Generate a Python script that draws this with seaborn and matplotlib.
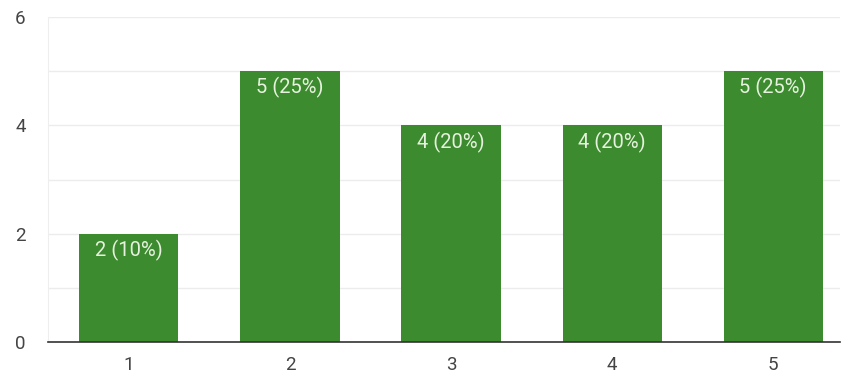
import matplotlib
matplotlib.use("Agg")
import matplotlib.pyplot as plt
import seaborn as sns
import pandas as pd

categories = ["1", "2", "3", "4", "5"]
counts = [2, 5, 4, 4, 5]
labels = ["2 (10%)", "5 (25%)", "4 (20%)", "4 (20%)", "5 (25%)"]
yticks = [0, 2, 4, 6]

sns.set_style("white")
plt.rcParams['font.family'] = ['Roboto', 'DejaVu Sans']

df = pd.DataFrame({"cat": categories, "count": counts})

fig = plt.figure(figsize=(8.45, 3.79), dpi=100)
ax = fig.add_axes([48/845, 1-342/379, (840-48)/845, (342-17)/379])
sns.barplot(data=df, x="cat", y="count", color="#3d8b2f", width=0.615,
            saturation=1, ax=ax, zorder=3)
for p in ax.patches:
    p.set_edgecolor("none")

ax.set_xlim(-0.503, 4.416)
ax.set_ylim(0, 6)
ax.set_yticks(yticks)
ax.set_yticks([1, 3, 5], minor=True)
ax.grid(axis="y", which="both", color="#ececec", linewidth=1, zorder=0)
ax.set_axisbelow(True)
for s in ["top", "right"]:
    ax.spines[s].set_visible(False)
ax.spines["left"].set_color("#eeeeee")
ax.spines["bottom"].set_color("#333333")
ax.spines["bottom"].set_linewidth(1.2)
ax.spines["bottom"].set_zorder(5)
ax.tick_params(axis="both", length=0, labelsize=13.5, labelcolor="#444444")
ax.tick_params(axis="y", pad=16)
ax.tick_params(axis="x", pad=10)
ax.set_xlabel("")
ax.set_ylabel("")

for i, (v, lab) in enumerate(zip(counts, labels)):
    ax.annotate(lab, (i, v), xytext=(0, -4.5), textcoords="offset points",
                ha="center", va="top", color="#e6f2de", fontsize=14.5, zorder=6)

fig.savefig("out.png", dpi=100)
